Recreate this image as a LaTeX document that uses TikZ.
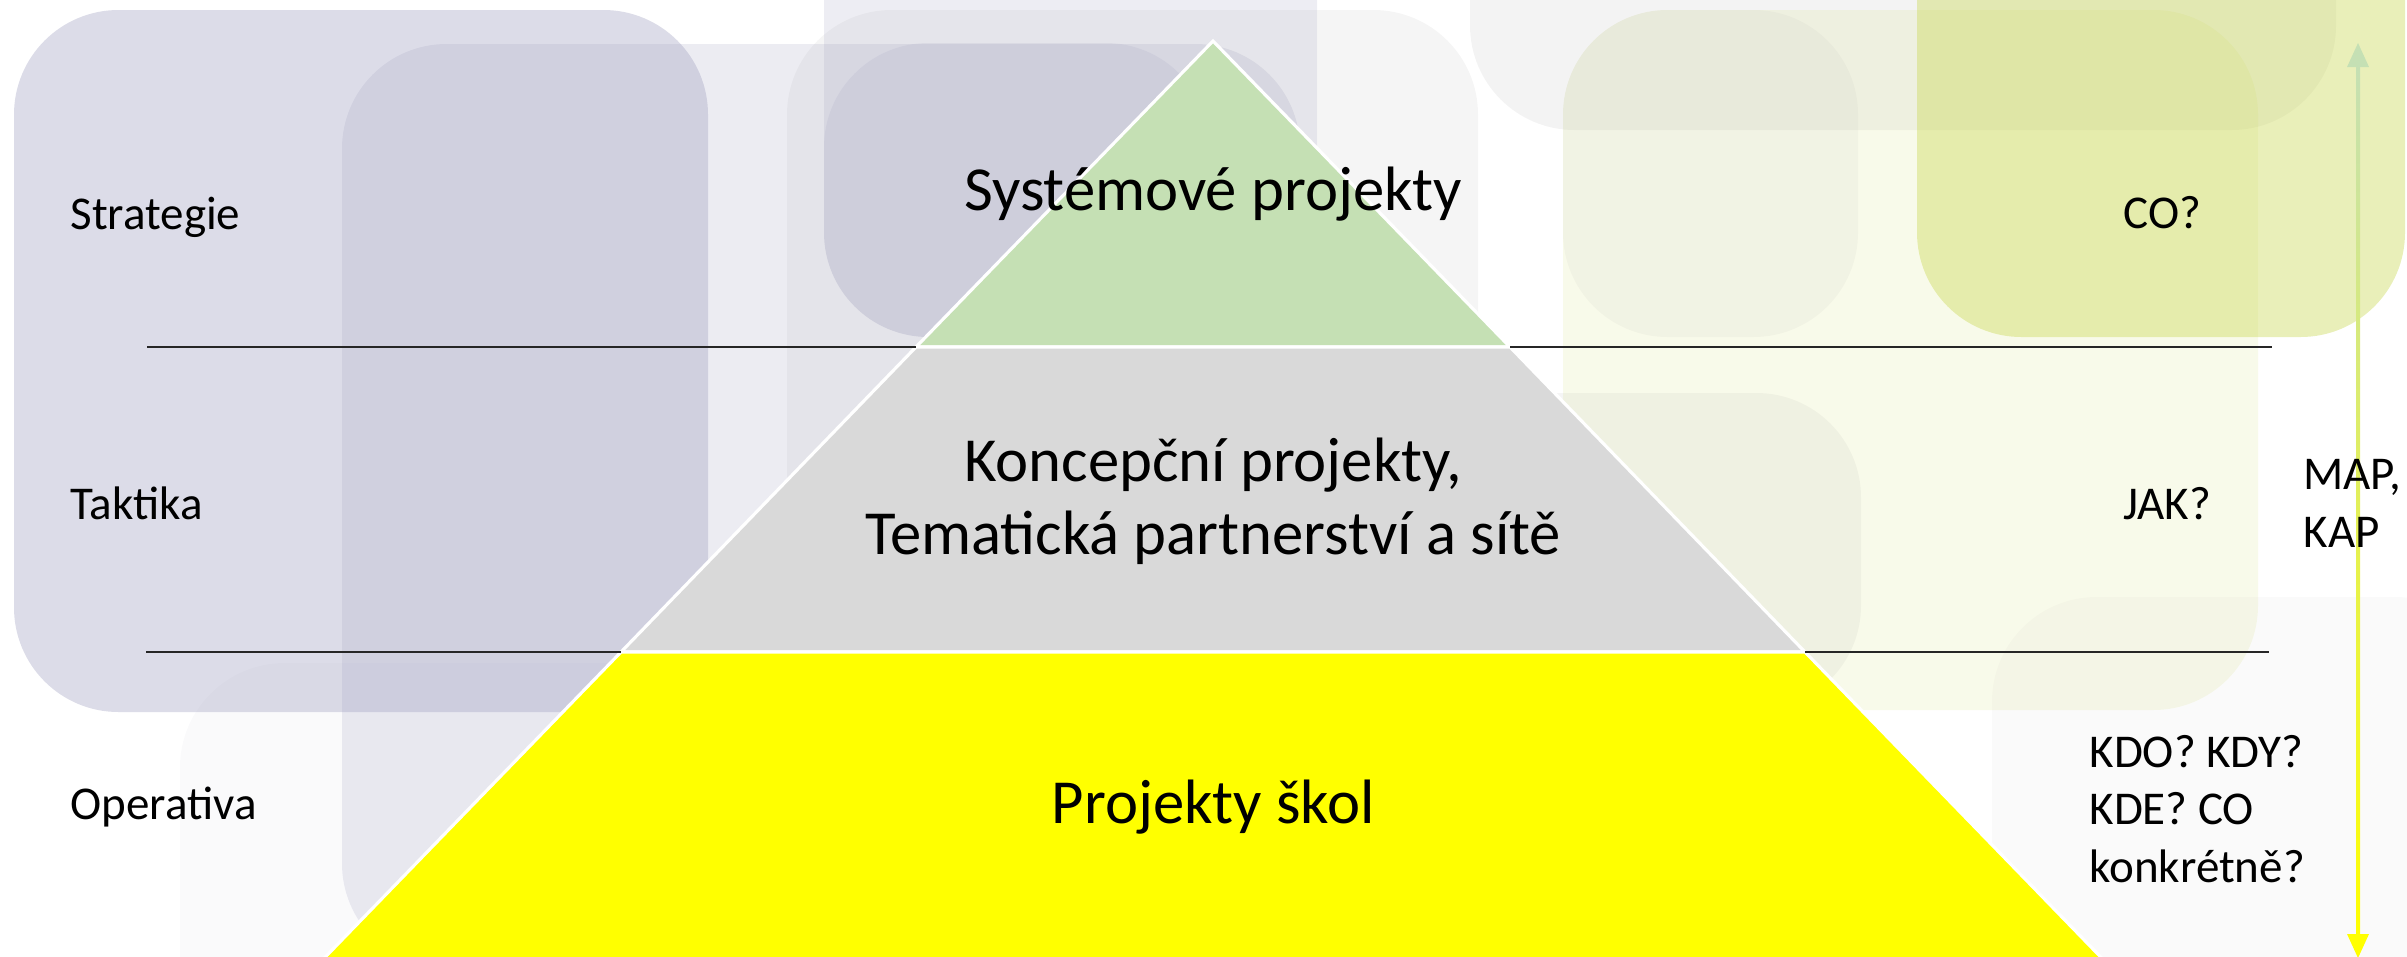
\documentclass[tikz,border=0pt]{standalone}
\usepackage{fontspec}
\setmainfont{Carlito}
\usepackage{tikz}
\usetikzlibrary{calc}
\definecolor{tiergreen}{HTML}{C5E0B4}
\definecolor{tiergray}{HTML}{D9D9D9}
\definecolor{tieryellow}{HTML}{FFFF00}
\definecolor{bglav}{RGB}{150,150,185}
\definecolor{bggray}{RGB}{160,160,160}
\definecolor{bgolive}{RGB}{200,215,80}
\definecolor{arrgreen}{HTML}{C5E0B4}
\definecolor{arrlav}{HTML}{CDCDDE}
\definecolor{arryellow}{HTML}{FFFF00}
\tikzset{
  every picture/.style = {
    x=0.3828pt,
    y=-0.3828pt
  },
  blob/.style={
    rounded corners=40pt
  },
  tier/.style={
    draw=white,
    line width=1.2pt
  },
  levelline/.style={
    draw=black!85,
    line width=0.6pt
  },
  leveltext/.style={
    font=\fontsize{18}{22}\selectfont,
    inner sep=0pt
  },
  tiertext/.style={
    font=\fontsize{24}{27.6}\selectfont,
    inner sep=0pt,
    align=center
  }
}

\begin{document}
\begin{tikzpicture}
    \useasboundingbox (0,0) rectangle (2407,956);
    \clip (0,0) rectangle (2407,956);
    % background blobs
    \fill[bglav, fill opacity=0.33, blob] (14,10) rectangle (708,712);
    \fill[bglav, fill opacity=0.18, blob] (342,44) rectangle (1300,968);
    \fill[bglav, fill opacity=0.05, blob] (180,663) rectangle (1200,1100);
    \fill[bglav, fill opacity=0.17, blob] (824,-150) rectangle (1317,337);
    \fill[bggray, fill opacity=0.1, blob] (787,10) rectangle (1478,1000);
    \fill[bglav, fill opacity=0.14, blob] (824,43) rectangle (1210,337);
    \fill[bggray, fill opacity=0.12, blob] (1470,-150) rectangle (2336,130);
    \fill[bgolive, fill opacity=0.12, blob] (1563,10) rectangle (2258,710);
    \fill[bggray, fill opacity=0.08, blob] (1563,10) rectangle (1858,337);
    \fill[bggray, fill opacity=0.1, blob] (1450,393) rectangle (1861,710);
    \fill[bgolive, fill opacity=0.4, blob] (1917,-150) rectangle (2405,337);
    \fill[bggray, fill opacity=0.05, blob] (1992,597) rectangle (2500,1100);

    % pyramid
    \coordinate (apex) at (1213,41);
    \coordinate (t1l) at (916,347);
    \coordinate (t1r) at (1510,347);
    \coordinate (t2l) at (621,652);
    \coordinate (t2r) at (1805,652);
    \coordinate (t3l) at (303,980);
    \coordinate (t3r) at (2123,980);
    \filldraw[tier, fill=tiergreen] (apex) -- (t1r) -- (t1l) -- cycle;
    \filldraw[tier, fill=tiergray] (t1l) -- (t1r) -- (t2r) -- (t2l) -- cycle;
    \filldraw[tier, fill=tieryellow] (t2l) -- (t2r) -- (t3r) -- (t3l) -- cycle;

    % level lines
    \coordinate (a1) at (147,347);
    \coordinate (b1) at (2272,347);
    \coordinate (a2) at (146,652);
    \coordinate (b2) at (2269,652);
    \draw[levelline] (a1) -- (t1l);
    \draw[levelline] (t1r) -- (b1);
    \draw[levelline] (a2) -- (t2l);
    \draw[levelline] (t2r) -- (b2);

    \node[tiertext, anchor=base] (sys) at (1213,210) {Systémové projekty};
    \node[tiertext, anchor=base] (konc) at (1213,554) {Koncepční projekty,\\Tematická partnerství a sítě};
    \node[tiertext, anchor=base] (skol) at (1213,823) {Projekty škol};

    \node[leveltext, anchor=base west] (strat) at (70,229) {Strategie};
    \node[leveltext, anchor=base west] (takt) at (70,519) {Taktika};
    \node[leveltext, anchor=base west] (oper) at (70,819) {Operativa};

    \node[leveltext, anchor=base west] (co) at (2123,228) {CO?};
    \node[leveltext, anchor=base west] (jak) at (2123,519) {JAK?};
    \node[leveltext, anchor=base west, align=left] (kdo) at (2089,882) {KDO? KDY?\\KDE? CO\\konkrétně?};

    % gradient arrow
    \coordinate (arrtop) at (2358,43);
    \coordinate (arrbot) at (2358,958);
    \shade[top color=arrgreen, middle color=arrlav, bottom color=arryellow]
      ($(arrtop)+(-2,22)$) rectangle ($(arrbot)+(2,-22)$);
    \fill[arrgreen] (arrtop) -- ++(-11,24) -- ++(22,0) -- cycle;
    \fill[arryellow] (arrbot) -- ++(-11,-24) -- ++(22,0) -- cycle;
    \node[leveltext, anchor=base west, align=left] (map) at (2303,547) {MAP,\\KAP};
\end{tikzpicture}
\end{document}
